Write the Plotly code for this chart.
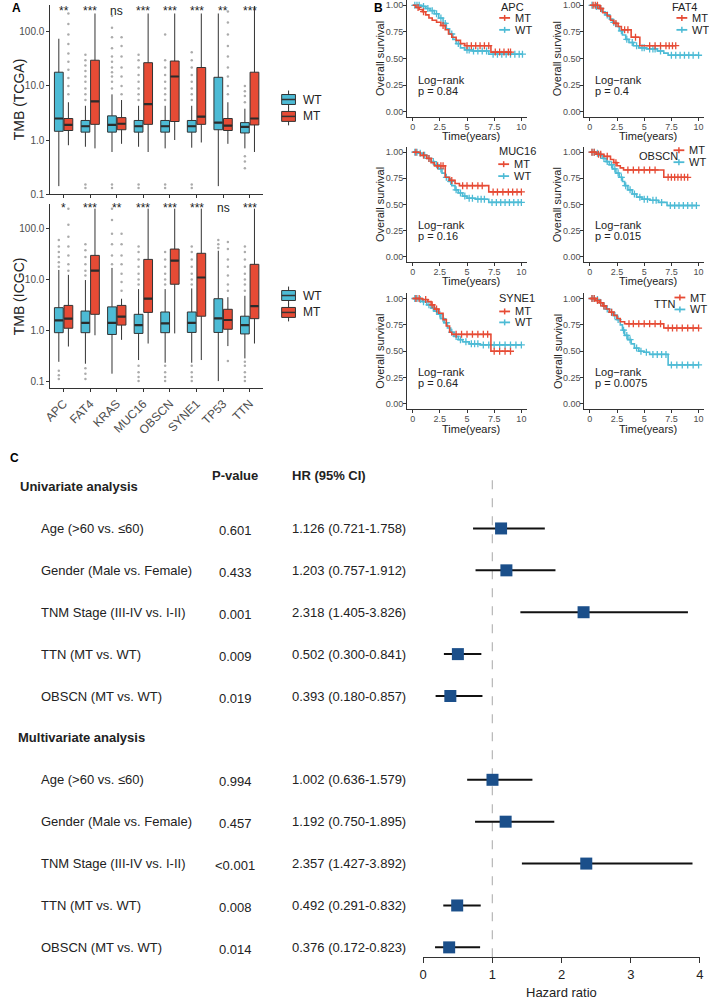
import plotly.graph_objects as go

W, H = 709, 1004
def X(px): return px / W
def Y(py): return 1 - py / H

BLUE = "#4DBBD5"
RED = "#E64B35"
FONT = "Liberation Sans, Arial, sans-serif"
TXT = "#222222"
TICK = "#4D4D4D"

# ---------------- Panel A data ----------------
genes = ["APC", "FAT4", "KRAS", "MUC16", "OBSCN", "SYNE1", "TP53", "TTN"]

tcga_wt_q1 = [1.45, 1.4, 1.4, 1.4, 1.4, 1.4, 1.55, 1.35]
tcga_wt_med = [2.5, 1.8, 1.9, 1.8, 1.8, 1.8, 2.1, 1.75]
tcga_wt_q3 = [18, 2.3, 2.8, 2.3, 2.3, 2.3, 14.5, 2.1]
tcga_wt_lo = [0.14, 0.75, 0.6, 0.75, 0.7, 0.72, 0.14, 0.7]
tcga_wt_hi = [75, 4.3, 7.0, 4.3, 4.3, 4.3, 220, 3.8]

tcga_mt_q1 = [1.5, 1.95, 1.55, 1.95, 2.2, 1.95, 1.5, 1.9]
tcga_mt_med = [1.9, 5.2, 2.0, 4.6, 15, 2.7, 1.85, 2.5]
tcga_mt_q3 = [2.5, 30, 2.6, 27, 29, 22, 2.5, 18]
tcga_mt_lo = [0.8, 0.7, 0.85, 0.6, 1.0, 0.9, 0.85, 0.6]
tcga_mt_hi = [5.0, 220, 5.5, 220, 220, 220, 5.0, 300]

icgc_wt_q1 = [0.9, 0.9, 0.83, 0.87, 0.9, 0.91, 0.91, 0.85]
icgc_wt_med = [1.57, 1.4, 1.4, 1.27, 1.37, 1.4, 1.72, 1.27]
icgc_wt_q3 = [2.8, 2.4, 2.9, 2.07, 2.3, 2.3, 4.2, 1.9]
icgc_wt_lo = [0.24, 0.22, 0.14, 0.26, 0.23, 0.23, 0.1, 0.28]
icgc_wt_hi = [15.5, 9.8, 17, 6.5, 6.5, 6.7, 37, 4.8]

icgc_mt_q1 = [1.1, 2.07, 1.27, 2.26, 8.1, 1.9, 1.05, 1.7]
icgc_mt_med = [1.7, 15, 1.86, 4.2, 23.6, 11, 1.6, 3.0]
icgc_mt_q3 = [3.1, 30, 3.1, 25, 40, 33, 2.6, 20]
icgc_mt_lo = [0.48, 0.8, 0.65, 0.55, 0.87, 0.26, 0.49, 0.55]
icgc_mt_hi = [12.4, 250, 4.2, 250, 250, 250, 4.5, 250]

tcga_wt_out = {"APC": [], "FAT4": [5.5, 7, 9, 12, 15, 19, 24, 30, 38, 0.15, 0.13],
               "KRAS": [9, 12, 15, 18, 22, 28, 35, 50, 80, 120, 200, 0.15, 0.13],
               "MUC16": [5.5, 7, 9, 12, 16, 22, 30, 38, 0.15, 0.13],
               "OBSCN": [5.5, 7, 9, 12, 16, 22, 30, 90, 0.15, 0.13],
               "SYNE1": [5.5, 7, 9, 12, 16, 22, 30, 42, 0.15, 0.13],
               "TP53": [], "TTN": [5, 6.5, 8, 10, 0.5, 0.4, 0.3]}
tcga_mt_out = {"APC": [7, 10, 14, 20, 28, 40, 60, 90, 140, 220], "FAT4": [],
               "KRAS": [7, 10, 15, 22, 35, 55, 80], "MUC16": [], "OBSCN": [], "SYNE1": [],
               "TP53": [7, 10, 15, 22, 35, 55, 90, 150, 240], "TTN": []}
icgc_wt_out = {"APC": [18, 22, 28, 35, 45, 60, 0.16, 0.13, 0.11],
               "FAT4": [12, 15, 20, 28, 38, 50, 0.18, 0.14, 0.11],
               "KRAS": [20, 30, 50, 80, 150, 250],
               "MUC16": [8, 10, 13, 18, 25, 35, 45, 0.2, 0.15, 0.12, 0.1],
               "OBSCN": [8, 10, 13, 18, 25, 35, 0.2, 0.15, 0.12, 0.1],
               "SYNE1": [8, 10, 13, 18, 25, 35, 45, 0.2, 0.15, 0.12, 0.1],
               "TP53": [42, 50, 60],
               "TTN": [6, 8, 10, 13, 18, 25, 35, 45, 0.24, 0.2, 0.15, 0.12, 0.1]}
icgc_mt_out = {"APC": [15, 20, 30, 45, 70, 120, 250], "FAT4": [],
               "KRAS": [6, 9, 13, 20, 30, 50, 80], "MUC16": [], "OBSCN": [], "SYNE1": [],
               "TP53": [6, 8, 12, 18, 25, 40, 55, 0.25], "TTN": []}

tcga_sig = ["**", "***", "ns", "***", "***", "***", "**", "***"]
icgc_sig = ["*", "***", "**", "***", "***", "***", "ns", "***"]

tmb_tickvals = [0.1, 1, 10, 100]
tmb_ticktext = ["0.1", "1.0", "10.0", "100.0"]

# ---------------- Panel B data ----------------
apc_mt_t = [0.3, 0.6, 0.9, 1.2, 1.5, 1.8, 2.2, 2.6, 3.0, 3.3, 3.6, 4.0, 4.4, 4.8, 7.2]
apc_mt_s = [0.98, 0.96, 0.94, 0.91, 0.88, 0.86, 0.84, 0.81, 0.77, 0.73, 0.70, 0.67, 0.64, 0.62, 0.56]
apc_mt_c = [0.5, 1.0, 2.8, 5.0, 5.4, 5.8, 6.2, 6.6, 7.0, 7.6, 8.0, 8.4, 8.8, 9.0]
apc_wt_t = [0.8, 1.2, 1.6, 2.0, 2.4, 2.8, 3.1, 3.4, 3.7, 4.0, 4.4, 4.8, 5.5, 7.0]
apc_wt_s = [0.99, 0.97, 0.95, 0.92, 0.88, 0.83, 0.78, 0.73, 0.68, 0.64, 0.60, 0.58, 0.57, 0.54]
apc_wt_c = [0.2, 0.4, 0.6, 1.0, 1.4, 1.8, 2.2, 2.6, 3.0, 3.6, 4.2, 5.0, 5.2, 5.6, 6.0, 6.4, 6.8,
            7.4, 7.8, 8.2, 8.6, 9.0, 9.4, 9.8, 10.1]

fat4_mt_t = [0.9, 1.2, 1.6, 1.9, 2.2, 2.6, 2.9, 3.8, 4.6]
fat4_mt_s = [0.97, 0.93, 0.90, 0.86, 0.83, 0.80, 0.77, 0.70, 0.62]
fat4_mt_c = [0.3, 0.5, 0.7, 1.0, 2.4, 3.2, 3.5, 4.2, 5.5, 6.0, 6.5, 7.0, 7.3, 7.6, 7.9]
fat4_wt_t = [0.4, 0.8, 1.1, 1.4, 1.8, 2.1, 2.4, 2.7, 3.0, 3.3, 3.6, 4.0, 4.5, 5.2, 6.2, 6.8, 7.2]
fat4_wt_s = [0.99, 0.97, 0.94, 0.91, 0.87, 0.84, 0.80, 0.76, 0.72, 0.68, 0.65, 0.62, 0.60, 0.59,
             0.57, 0.55, 0.53]
fat4_wt_c = [0.2, 0.6, 1.0, 1.6, 2.2, 2.9, 3.4, 3.9, 4.3, 4.8, 5.0, 5.5, 5.8, 6.0, 6.5, 7.5, 7.9,
             8.3, 8.7, 9.1, 9.5, 10.0]

muc16_mt_t = [0.7, 1.3, 1.7, 2.0, 3.0, 3.4, 3.9, 4.3, 7.0]
muc16_mt_s = [0.97, 0.94, 0.90, 0.87, 0.76, 0.73, 0.70, 0.68, 0.62]
muc16_mt_c = [0.3, 1.0, 1.5, 2.3, 2.6, 2.8, 3.6, 4.6, 5.0, 5.5, 6.0, 6.4, 7.4, 7.8, 8.3, 8.8,
              9.2, 9.6, 10.0]
muc16_wt_t = [0.5, 0.9, 1.3, 1.7, 2.0, 2.4, 2.7, 3.0, 3.3, 3.6, 3.9, 4.2, 4.6, 5.0, 5.8, 7.0]
muc16_wt_s = [0.99, 0.97, 0.94, 0.91, 0.88, 0.84, 0.80, 0.76, 0.72, 0.68, 0.64, 0.61, 0.58, 0.56,
              0.55, 0.52]
muc16_wt_c = [0.2, 0.4, 0.7, 1.1, 1.5, 1.9, 2.2, 2.6, 3.1, 3.5, 4.0, 4.4, 4.8, 5.2, 5.5, 6.0,
              6.3, 6.6, 7.3, 7.7, 8.1, 8.5, 8.9, 9.3, 9.7, 10.0]

obscn_mt_t = [0.6, 1.3, 1.9, 2.2, 2.5, 2.8, 3.1, 6.8]
obscn_mt_s = [0.98, 0.96, 0.93, 0.90, 0.87, 0.85, 0.83, 0.76]
obscn_mt_c = [0.2, 0.4, 0.8, 1.0, 1.6, 2.4, 3.5, 4.0, 4.5, 5.0, 5.5, 6.0, 7.2, 7.5, 7.8, 8.1,
              8.4, 8.7, 9.0]
obscn_wt_t = [0.5, 0.9, 1.2, 1.5, 1.8, 2.1, 2.4, 2.7, 3.0, 3.2, 3.5, 3.9, 4.3, 4.8, 5.5, 6.3, 7.1]
obscn_wt_s = [0.99, 0.97, 0.94, 0.91, 0.88, 0.84, 0.80, 0.76, 0.72, 0.68, 0.64, 0.60, 0.57, 0.55,
              0.54, 0.52, 0.49]
obscn_wt_c = [0.2, 0.4, 0.7, 1.0, 1.3, 1.6, 2.0, 2.3, 2.6, 2.9, 3.3, 3.7, 4.1, 4.6, 5.0, 5.3,
              5.8, 6.1, 6.6, 7.4, 7.8, 8.2, 8.6, 9.0, 9.4, 9.8]

syne1_mt_t = [0.9, 1.4, 1.7, 2.0, 2.4, 2.8, 3.1, 3.4, 3.6, 7.2]
syne1_mt_s = [0.99, 0.97, 0.94, 0.90, 0.86, 0.80, 0.74, 0.68, 0.66, 0.50]
syne1_mt_c = [0.3, 0.6, 1.2, 1.8, 2.2, 4.0, 4.5, 5.0, 5.5, 6.0, 6.5, 6.9, 7.5, 8.0, 8.5, 9.0]
syne1_wt_t = [0.5, 0.9, 1.3, 1.7, 2.0, 2.3, 2.6, 2.9, 3.2, 3.5, 3.8, 4.2, 4.6, 5.2, 6.2]
syne1_wt_s = [0.99, 0.97, 0.94, 0.91, 0.88, 0.85, 0.81, 0.77, 0.72, 0.68, 0.64, 0.61, 0.59, 0.57,
              0.56]
syne1_wt_c = [0.2, 0.4, 0.7, 1.0, 1.5, 1.9, 2.2, 2.5, 2.8, 3.1, 3.6, 4.0, 4.4, 4.9, 5.4, 5.7,
              6.0, 6.5, 7.0, 7.5, 8.0, 8.5, 9.0, 9.5, 10.0]

ttn_mt_t = [0.5, 0.9, 1.2, 1.5, 1.8, 2.2, 2.5, 2.8, 3.2, 6.8]
ttn_mt_s = [0.98, 0.96, 0.93, 0.90, 0.87, 0.84, 0.81, 0.78, 0.76, 0.72]
ttn_mt_c = [0.2, 0.4, 0.7, 1.0, 1.3, 2.0, 3.6, 4.0, 4.5, 5.0, 5.5, 6.0, 6.5, 7.2, 7.6, 8.0,
            8.5, 9.0, 9.5, 10.0]
ttn_wt_t = [0.5, 0.9, 1.2, 1.5, 1.8, 2.1, 2.5, 2.8, 3.0, 3.2, 3.5, 3.8, 4.1, 4.5, 5.0, 5.5, 7.2]
ttn_wt_s = [0.99, 0.96, 0.93, 0.90, 0.87, 0.84, 0.80, 0.75, 0.70, 0.65, 0.61, 0.57, 0.53, 0.50,
            0.49, 0.47, 0.37]
ttn_wt_c = [0.2, 0.4, 0.7, 1.0, 1.3, 1.6, 2.0, 2.3, 2.6, 3.1, 3.4, 3.7, 4.3, 4.7, 5.2, 5.8,
            6.2, 6.6, 7.0, 7.5, 8.0, 8.5, 9.0, 9.5, 10.0]

km_pvalues = {"APC": "0.84", "FAT4": "0.4", "MUC16": "0.16", "OBSCN": "0.015",
              "SYNE1": "0.64", "TTN": "0.0075"}
km_ticks = [0, 2.5, 5, 7.5, 10]
km_ticktext = ["0", "2.5", "5", "7.5", "10"]
surv_ticks = [0, 0.25, 0.5, 0.75, 1.0]
surv_ticktext = ["0.00", "0.25", "0.50", "0.75", "1.00"]

# ---------------- Panel C data ----------------
cox_labels = ["Age (>60 vs. ≤60)", "Gender (Male vs. Female)", "TNM Stage (III-IV vs. I-II)",
              "TTN (MT vs. WT)", "OBSCN (MT vs. WT)"]
uni_p = ["0.601", "0.433", "0.001", "0.009", "0.019"]
uni_hr = [1.126, 1.203, 2.318, 0.502, 0.393]
uni_lo = [0.721, 0.757, 1.405, 0.300, 0.180]
uni_hi = [1.758, 1.912, 3.826, 0.841, 0.857]
multi_p = ["0.994", "0.457", "<0.001", "0.008", "0.014"]
multi_hr = [1.002, 1.192, 2.357, 0.492, 0.376]
multi_lo = [0.636, 0.750, 1.427, 0.291, 0.172]
multi_hi = [1.579, 1.895, 3.892, 0.832, 0.823]
hr_ticks = [0, 1, 2, 3, 4]

# ================= figure =================
fig = go.Figure()
annotations = []
shapes = []

def ann(text, x, y, size=11, color=TXT, xanchor="center", yanchor="middle", bold=False,
        xref="paper", yref="paper", angle=0):
    annotations.append(dict(text=("<b>%s</b>" % text) if bold else text, x=x, y=y, xref=xref,
                            yref=yref, showarrow=False, xanchor=xanchor, yanchor=yanchor,
                            textangle=angle, font=dict(family=FONT, size=size, color=color)))

# ----- Panel A -----
OFF = 0.18
BW = 0.33
def add_boxes(q1, med, q3, lo, hi, off, color, xa, ya):
    pos = [i + off for i in range(len(genes))]
    fig.add_trace(go.Box(x=pos, q1=q1, median=med, q3=q3,
                         lowerfence=lo, upperfence=hi, width=BW, fillcolor=color,
                         line=dict(color="#333333", width=1.0), whiskerwidth=0,
                         boxpoints=False, xaxis=xa, yaxis=ya, showlegend=False,
                         hoverinfo="skip"))
    # thicker median bar (ggplot style)
    fig.add_trace(go.Scatter(x=pos, y=med, mode="markers", xaxis=xa, yaxis=ya,
                             marker=dict(size=0.1, color="rgba(0,0,0,0)"),
                             error_x=dict(type="constant", value=BW / 2 - 0.01, thickness=2.2,
                                          width=0, color="#2B2B2B"),
                             showlegend=False, hoverinfo="skip"))

def add_out(outd, off, xa, ya):
    xs, ys = [], []
    for i, g in enumerate(genes):
        for v in outd[g]:
            xs.append(i + off)
            ys.append(v)
    fig.add_trace(go.Scatter(x=xs, y=ys, mode="markers", xaxis=xa, yaxis=ya,
                             marker=dict(size=2.5, color="#ABABAB"), showlegend=False,
                             hoverinfo="skip"))

add_out(tcga_wt_out, -OFF, "x", "y")
add_out(tcga_mt_out, OFF, "x", "y")
add_out(icgc_wt_out, -OFF, "x2", "y2")
add_out(icgc_mt_out, OFF, "x2", "y2")
add_boxes(tcga_wt_q1, tcga_wt_med, tcga_wt_q3, tcga_wt_lo, tcga_wt_hi, -OFF, BLUE, "x", "y")
add_boxes(tcga_mt_q1, tcga_mt_med, tcga_mt_q3, tcga_mt_lo, tcga_mt_hi, OFF, RED, "x", "y")
add_boxes(icgc_wt_q1, icgc_wt_med, icgc_wt_q3, icgc_wt_lo, icgc_wt_hi, -OFF, BLUE, "x2", "y2")
add_boxes(icgc_mt_q1, icgc_mt_med, icgc_mt_q3, icgc_mt_lo, icgc_mt_hi, OFF, RED, "x2", "y2")

for i, s in enumerate(tcga_sig):
    ann(s, i, Y(11), size=12, xref="x")
for i, s in enumerate(icgc_sig):
    ann(s, i, Y(209), size=12, xref="x2")

ann("TMB (TCGA)", X(12), Y(100), size=14, angle=-90)
ann("TMB (ICGC)", X(12), Y(298), size=14, angle=-90)

def box_glyph(cx, cy, color):
    shapes.append(dict(type="line", xref="paper", yref="paper", x0=X(cx), x1=X(cx),
                       y0=Y(cy - 9), y1=Y(cy + 9), line=dict(color="#333333", width=1)))
    shapes.append(dict(type="rect", xref="paper", yref="paper", x0=X(cx - 7), x1=X(cx + 7),
                       y0=Y(cy - 5), y1=Y(cy + 5), fillcolor=color,
                       line=dict(color="#333333", width=1)))
    shapes.append(dict(type="line", xref="paper", yref="paper", x0=X(cx - 7), x1=X(cx + 7),
                       y0=Y(cy), y1=Y(cy), line=dict(color="#333333", width=1.5)))

for (cy, col, lab) in [(100, BLUE, "WT"), (117, RED, "MT"), (297, BLUE, "WT"), (314, RED, "MT")]:
    box_glyph(286, cy, col)
    ann(lab, X(299), Y(cy), size=12, xanchor="left")

axis_common = dict(showline=True, linecolor="#333333", linewidth=1, ticks="outside",
                   ticklen=3, tickcolor="#333333", showgrid=False, zeroline=False,
                   tickfont=dict(family=FONT, size=10, color=TICK))

layout_axes = {}
layout_axes["xaxis"] = dict(axis_common, domain=[X(44), X(260)], range=[-0.5, 7.5],
                            anchor="y", tickvals=list(range(len(genes))), showticklabels=False)
layout_axes["yaxis"] = dict(axis_common, domain=[Y(195), Y(5)], type="log", range=[-1, 2.5],
                            anchor="x", tickvals=tmb_tickvals, ticktext=tmb_ticktext)
layout_axes["xaxis2"] = dict(axis_common, domain=[X(44), X(260)], range=[-0.5, 7.5],
                             anchor="y2", tickvals=list(range(len(genes))), ticktext=genes,
                             tickangle=-45, tickfont=dict(family=FONT, size=12, color=TICK))
layout_axes["yaxis2"] = dict(axis_common, domain=[Y(390), Y(205)], type="log",
                             range=[-1.137, 2.49], anchor="x2", tickvals=tmb_tickvals,
                             ticktext=tmb_ticktext)

# ----- Panel B -----
km_data = {
    "APC": (apc_mt_t, apc_mt_s, apc_mt_c, apc_wt_t, apc_wt_s, apc_wt_c),
    "FAT4": (fat4_mt_t, fat4_mt_s, fat4_mt_c, fat4_wt_t, fat4_wt_s, fat4_wt_c),
    "MUC16": (muc16_mt_t, muc16_mt_s, muc16_mt_c, muc16_wt_t, muc16_wt_s, muc16_wt_c),
    "OBSCN": (obscn_mt_t, obscn_mt_s, obscn_mt_c, obscn_wt_t, obscn_wt_s, obscn_wt_c),
    "SYNE1": (syne1_mt_t, syne1_mt_s, syne1_mt_c, syne1_wt_t, syne1_wt_s, syne1_wt_c),
    "TTN": (ttn_mt_t, ttn_mt_s, ttn_mt_c, ttn_wt_t, ttn_wt_s, ttn_wt_c),
}
panels = [("APC", 0, 0), ("FAT4", 1, 0), ("MUC16", 0, 1), ("OBSCN", 1, 1),
          ("SYNE1", 0, 2), ("TTN", 1, 2)]
col_x = [(406.5, 528), (586.5, 708)]
row_y = [(0, 117.5), (147.7, 263.3), (294.7, 411.3)]

def surv_at(t, ts, ss):
    s = 1.0
    for ti, si in zip(ts, ss):
        if ti <= t:
            s = si
    return s

def add_km(ts, ss, cs, color, xa, ya):
    end = max(cs + ts)
    xs = [0] + ts + [end]
    ys = [1.0] + ss + [ss[-1]]
    fig.add_trace(go.Scatter(x=xs, y=ys, mode="lines", line=dict(color=color, width=1.6,
                             shape="hv"), xaxis=xa, yaxis=ya, showlegend=False,
                             hoverinfo="skip"))
    fig.add_trace(go.Scatter(x=cs, y=[surv_at(c, ts, ss) for c in cs], mode="markers",
                             marker=dict(symbol="cross-thin", size=5,
                                         line=dict(color=color, width=1.3)),
                             xaxis=xa, yaxis=ya, showlegend=False, hoverinfo="skip"))

km_axis = dict(axis_common, ticklen=3, tickfont=dict(family=FONT, size=9, color=TICK),
               ticklabelstandoff=-2)
for k, (g, c, r) in enumerate(panels):
    n = k + 3
    xa, ya = "x%d" % n, "y%d" % n
    mt_t, mt_s, mt_c, wt_t, wt_s, wt_c = km_data[g]
    add_km(wt_t, wt_s, wt_c, BLUE, xa, ya)
    add_km(mt_t, mt_s, mt_c, RED, xa, ya)
    x0, x1 = col_x[c]
    ytop, ybot = row_y[r]
    layout_axes["xaxis%d" % n] = dict(km_axis, domain=[X(x0), X(x1)], range=[-0.5, 10.5],
                                      anchor=ya, tickvals=km_ticks, ticktext=km_ticktext)
    layout_axes["yaxis%d" % n] = dict(km_axis, domain=[Y(ybot), Y(max(ytop, 0))],
                                      range=[-0.05, 1.05], anchor=xa, tickvals=surv_ticks,
                                      ticktext=surv_ticktext)
    ann("Time(years)", X((x0 + x1) / 2 + 4), Y(ybot + 19.5), size=11)
    ann("Overall survival", X(x0 - 27), Y((ytop + ybot) / 2), size=11, angle=-90)
    ann("Log−rank", X(x0 + 9), Y(ybot - 37), size=11, xanchor="left")
    ann("p = " + km_pvalues[g], X(x0 + 9), Y(ybot - 26), size=11, xanchor="left")

def km_legend(title, tx, ty, gx, y_mt, y_wt):
    ann(title, X(tx), Y(ty), size=11, xanchor="left")
    for yy, col, lab in [(y_mt, RED, "MT"), (y_wt, BLUE, "WT")]:
        shapes.append(dict(type="line", xref="paper", yref="paper", x0=X(gx), x1=X(gx + 11),
                           y0=Y(yy), y1=Y(yy), line=dict(color=col, width=1.8)))
        shapes.append(dict(type="line", xref="paper", yref="paper", x0=X(gx + 5.5),
                           x1=X(gx + 5.5), y0=Y(yy - 3), y1=Y(yy + 3),
                           line=dict(color=col, width=1.5)))
        ann(lab, X(gx + 14), Y(yy), size=11, xanchor="left")

km_legend("APC", 500, 7, 500, 18, 30)
km_legend("FAT4", 673, 7, 680, 18, 30)
km_legend("MUC16", 498, 152, 499, 165, 177)
km_legend("OBSCN", 640, 157, 677, 151, 163)
km_legend("SYNE1", 498, 299, 500, 313, 324)
km_legend("TTN", 655, 306, 678, 299, 311)

# ----- Panel C -----
uni_rows = [1, 2, 3, 4, 5]
multi_rows = [7, 8, 9, 10, 11]
for rows, hr, lo, hi, pv in [(uni_rows, uni_hr, uni_lo, uni_hi, uni_p),
                             (multi_rows, multi_hr, multi_lo, multi_hi, multi_p)]:
    fig.add_trace(go.Scatter(
        x=hr, y=rows, mode="markers", xaxis="x9", yaxis="y9",
        marker=dict(symbol="square", size=12, color="#1B4F8A"),
        error_x=dict(type="data", symmetric=False,
                     array=[h2 - h for h, h2 in zip(hr, hi)],
                     arrayminus=[h - l for h, l in zip(hr, lo)],
                     thickness=2, width=0, color="#111111"),
        showlegend=False, hoverinfo="skip", cliponaxis=False))
    for rr, lab, p, h, l, u in zip(rows, cox_labels, pv, hr, lo, hi):
        ann(lab, X(33), rr, size=13, xanchor="left", yref="y9")
        ann(p, X(232), rr + 0.05, size=13, yref="y9")
        ann("%.3f (%.3f-%.3f)" % (h, l, u), X(287), rr, size=13, xanchor="left", yref="y9")

ann("Univariate analysis", X(11), 0, size=13, xanchor="left", yref="y9", bold=True)
ann("Multivariate analysis", X(9), 6, size=13, xanchor="left", yref="y9", bold=True)
ann("P-value", X(232), Y(478), size=13, bold=True)
ann("HR (95% CI)", X(287), Y(478), size=13, xanchor="left", bold=True)
ann("Hazard ratio", X(563), Y(997), size=13)

shapes.append(dict(type="line", xref="x9", yref="paper", x0=1, x1=1, y0=Y(962), y1=Y(482),
                   line=dict(color="#BBBBBB", width=1.3, dash="dash"), layer="below"))

layout_axes["xaxis9"] = dict(showline=True, linecolor="#333333", linewidth=1, ticks="outside",
                             ticklen=5, tickcolor="#333333", showgrid=False, zeroline=False,
                             domain=[X(422.7), X(703.9)], range=[0, 4], anchor="y9",
                             tickvals=hr_ticks,
                             tickfont=dict(family=FONT, size=13, color=TXT))
layout_axes["yaxis9"] = dict(domain=[Y(962), Y(470)], range=[11.235, -0.451], anchor="x9",
                             visible=False, showgrid=False, zeroline=False)

ann("A", X(10), Y(8), size=12, bold=True, color="#000000")
ann("B", X(377), Y(8), size=12, bold=True, color="#000000")
ann("C", X(8), Y(460), size=12, bold=True, color="#000000")

fig.update_layout(width=W, height=H, autosize=False, margin=dict(l=0, r=0, t=0, b=0),
                  paper_bgcolor="white", plot_bgcolor="white", showlegend=False,
                  font=dict(family=FONT, color=TXT), annotations=annotations, shapes=shapes,
                  **layout_axes)

fig.write_html("out.html", config={"displayModeBar": False, "staticPlot": True},
               post_script="document.body.style.margin='0px';"
                           "document.body.style.overflow='hidden';")
